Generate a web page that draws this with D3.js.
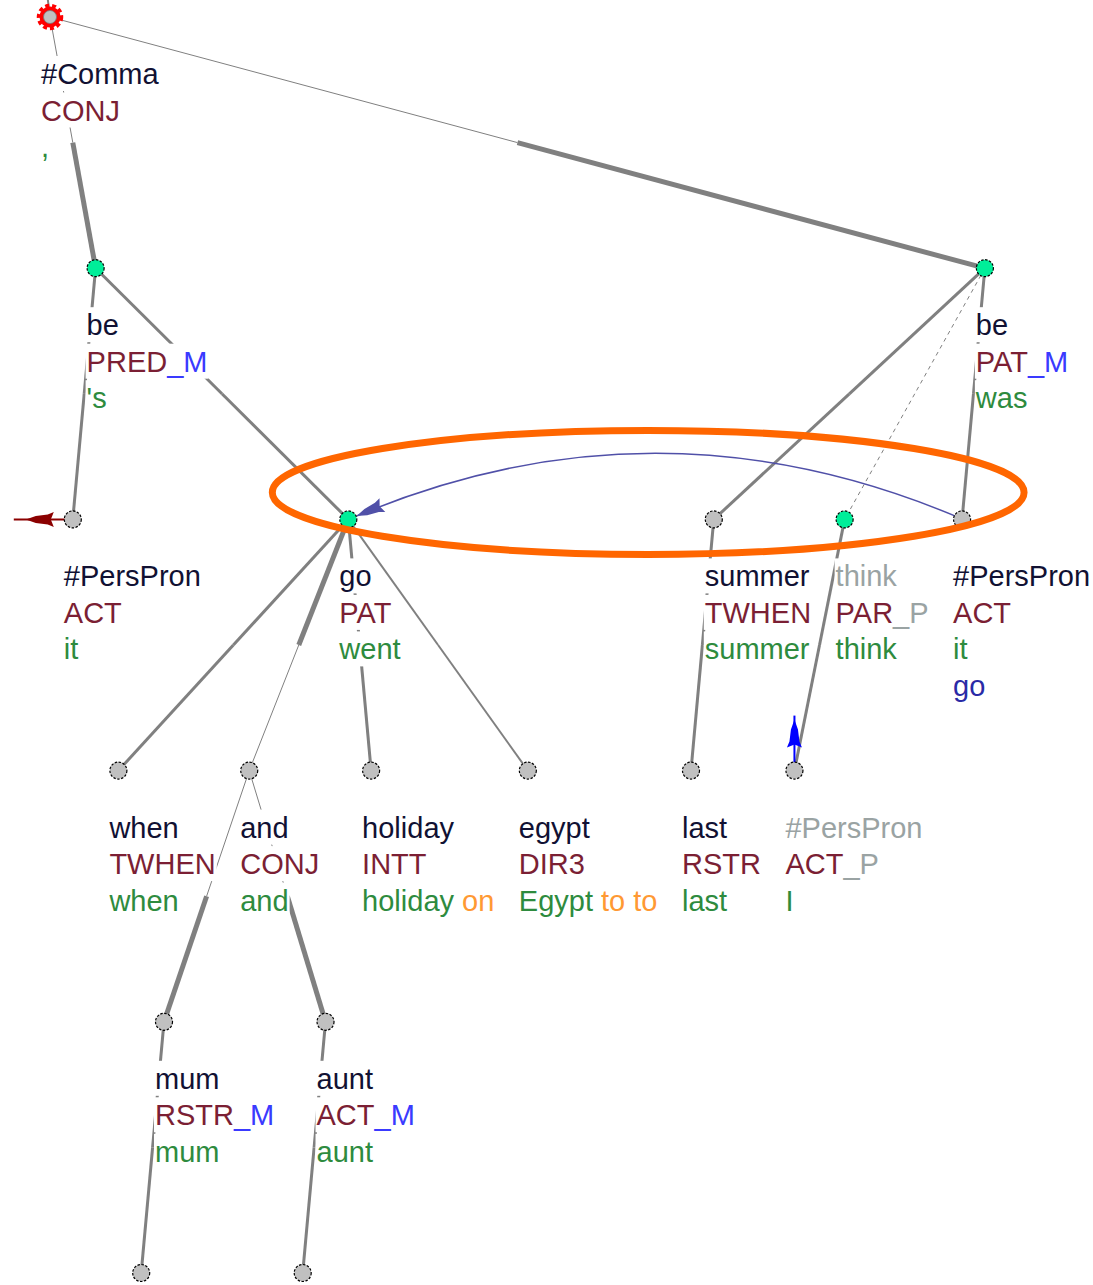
<!DOCTYPE html>
<html>
<head>
<meta charset="utf-8">
<script src="https://cdn.jsdelivr.net/npm/d3@7"></script>
<style>
body { margin: 0; background: #fff; }
svg { display: block; }
.lbl { font-family: "Liberation Sans", Arial, sans-serif; font-size: 29px; white-space: pre; }
</style>
</head>
<body>
<div id="chart"></div>
<script>
// tectogrammatical tree, nodes listed in deep word order (left to right)
var ids      = ["comma", "pers1", "be1", "when", "my1", "mum", "and", "my2", "aunt", "go", "holiday", "egypt", "last", "summer", "pers3", "think", "pers2", "be2"];
var parents  = [null, "be1", "comma", "go", "mum", "and", "go", "aunt", "and", "be1", "go", "go", "summer", "be2", "think", "be2", "be2", "comma"];
var lemmas   = ["#Comma", "#PersPron", "be", "when", "#PersPron", "mum", "and", "#PersPron", "aunt", "go", "holiday", "egypt", "last", "summer", "#PersPron", "think", "#PersPron", "be"];
var functors = ["CONJ", "ACT", "PRED_M", "TWHEN", "APP", "RSTR_M", "CONJ", "APP", "ACT_M", "PAT", "INTT", "DIR3", "RSTR", "TWHEN", "ACT_P", "PAR_P", "ACT", "PAT_M"];
var forms    = [",", "it", "'s", "when", "my", "mum", "and", "my", "aunt", "went", "holiday", "Egypt", "last", "summer", "I", "think", "it", "was"];
var auxWords = ["", "", "", "", "", "", "", "", "", "", "on", "to to", "", "", "", "", "", ""];
var extras   = ["", "", "", "", "", "", "", "", "", "", "", "", "", "", "", "", "go", ""];
// how the edge to the parent is drawn
var edgeKinds = ["", "normal", "member", "normal", "normal", "member", "coord", "normal", "member", "normal", "normal", "thin", "normal", "normal", "normal", "dashed", "normal", "member"];
var verbNodes  = ["be1", "be2", "go", "think"];   // drawn green
var mutedNodes = ["pers3", "think"];              // lemma in grey

// coreference arrows
var corefs = [
  {from: "pers1", to: null, dir: "left", color: "#8b0000"},
  {from: "pers3", to: null, dir: "up", color: "#0000ff"},
  {from: "pers2", to: "go", dir: null, color: "#5050a8"}
];
// highlighted arc (orange ellipse)
var highlight = {from: "go", to: "pers2"};

var W = 1093, H = 1285;
var colors = {
  lemma: "#111133", muted: "#9aa3a3", functor: "#7b1f34", member: "#3a3aff",
  para: "#9aa3a3", form: "#2e8b3e", aux: "#ff9933", extra: "#2a2aa6",
  edge: "#808080"
};
var edgeWidths = {normal: [3, 3], thin: [2, 2], member: [1, 5], coord: [5, 1], dashed: [1, 1]};

var svg = d3.select("#chart").append("svg")
    .attr("width", W)
    .attr("height", H);
svg.append("rect").attr("width", W).attr("height", H).attr("fill", "#fff");

var table = ids.map(function(id, i) {
  return {id: id, parent: parents[i], lemma: lemmas[i], functor: functors[i],
          form: forms[i], aux: auxWords[i], extra: extras[i], kind: edgeKinds[i]};
});

var root = d3.stratify().id(function(d) { return d.id; }).parentId(function(d) { return d.parent; })(table);
root.each(function(n) { n.data.depth = n.depth; });

var y = d3.scaleLinear().domain([0, root.height]).range([17, 1273]);

function labelLines(d) {
  var lines = [];
  lines.push([[d.lemma, mutedNodes.indexOf(d.id) >= 0 ? colors.muted : colors.lemma]]);
  var m = d.functor.match(/^(.*?)(_[MP])?$/);
  var f = [[m[1], colors.functor]];
  if (m[2]) f.push([m[2], m[2] == "_M" ? colors.member : colors.para]);
  lines.push(f);
  var fm = [[d.form, colors.form]];
  if (d.aux) fm.push([" " + d.aux, colors.aux]);
  lines.push(fm);
  if (d.extra) lines.push([[d.extra, colors.extra]]);
  return lines;
}

var meas = svg.append("text").attr("class", "lbl").attr("x", -2000).attr("y", -2000);
function lineWidth(segs) {
  meas.text(segs.map(function(s) { return s[0]; }).join(""));
  return meas.node().getComputedTextLength();
}

// TrEd-like layout: one step per node, labels on the same level must not collide
var step = 22.8, gap = 24.5, prevX = 50 - step, levelEnd = {};
table.forEach(function(d) {
  d.lines = labelLines(d);
  d.lw = d.lines.map(lineWidth);
  d.w = d3.max(d.lw);
  d.x = Math.max(prevX + step, levelEnd[d.depth] || -Infinity);
  prevX = d.x;
  levelEnd[d.depth] = d.x + d.w + gap;
  d.y = y(d.depth);
});
meas.remove();
var byId = new Map(table.map(function(d) { return [d.id, d]; }));

// edges
var edgeG = svg.append("g");
edgeG.append("line")
    .attr("x1", table[0].x).attr("y1", table[0].y)
    .attr("x2", table[0].x - 4).attr("y2", -15)
    .attr("stroke", colors.edge).attr("stroke-width", 2);
table.filter(function(d) { return d.parent; }).forEach(function(d) {
  var p = byId.get(d.parent), wd = edgeWidths[d.kind];
  var mx = (p.x + d.x) / 2, my = (p.y + d.y) / 2;
  [[p.x, p.y, mx, my, wd[0]], [mx, my, d.x, d.y, wd[1]]].forEach(function(s) {
    edgeG.append("line")
        .attr("x1", s[0]).attr("y1", s[1]).attr("x2", s[2]).attr("y2", s[3])
        .attr("stroke", colors.edge)
        .attr("stroke-width", s[4])
        .attr("stroke-dasharray", d.kind == "dashed" ? "4,4" : null);
  });
});

// arrowhead polygon (u = back along the arrow, v = across)
var headShape = [[0, 0], [10, 3.5], [22, 5], [28, 7.5], [25, 0], [28, -7.5], [22, -5], [10, -3.5]];
function arrowHead(g, tx, ty, ang, color, scale) {
  var ca = Math.cos(ang), sa = Math.sin(ang);
  var pts = headShape.map(function(p) {
    var u = p[0] * scale, v = p[1] * scale;
    return [tx - u * ca - v * sa, ty - u * sa + v * ca];
  });
  g.append("polygon").attr("points", pts.join(" ")).attr("fill", color);
}

var corefG = svg.append("g");
corefs.forEach(function(c) {
  var s = byId.get(c.from);
  if (c.to) {
    var t = byId.get(c.to);
    var chord = s.x - t.x;
    var cx = (s.x + t.x) / 2, cy = s.y - 0.21 * chord;
    var ex = t.x + 9 * 0.92, ey = t.y - 9 * 0.38;
    corefG.append("path")
        .attr("d", "M" + (s.x - 6) + "," + (s.y - 3) + " Q" + cx + "," + cy + " " + ex + "," + ey)
        .attr("fill", "none").attr("stroke", c.color).attr("stroke-width", 1.5);
    arrowHead(corefG, ex, ey, Math.atan2(ey - cy, ex - cx), c.color, 1);
  } else {
    var dx = c.dir == "left" ? -1 : 0, dy = c.dir == "up" ? -1 : 0;
    corefG.append("line")
        .attr("x1", s.x).attr("y1", s.y)
        .attr("x2", s.x + dx * 59).attr("y2", s.y + dy * 55)
        .attr("stroke", c.color).attr("stroke-width", 2);
    arrowHead(corefG, s.x + dx * 47, s.y + dy * 51, Math.atan2(dy, dx), c.color, 1);
  }
});

// labels with white boxes
var labelG = svg.append("g");
table.forEach(function(d) {
  d.lines.forEach(function(segs, i) {
    var base = d.y + 67 + i * 36.5;
    if (base - 27 > H) return;
    var tx = d.x - 9;
    labelG.append("rect")
        .attr("x", tx - 1).attr("y", base - 28)
        .attr("width", d.lw[i] + 2).attr("height", 35)
        .attr("fill", "#fff");
    var t = labelG.append("text").attr("class", "lbl").attr("x", tx).attr("y", base);
    segs.forEach(function(s) {
      t.append("tspan").attr("fill", s[1]).text(s[0]);
    });
  });
});

// nodes
var nodeG = svg.append("g");
table.forEach(function(d, i) {
  if (i == 0) {
    nodeG.append("circle").attr("cx", d.x).attr("cy", d.y).attr("r", 10.5).attr("fill", "#ff0000");
    nodeG.append("circle").attr("cx", d.x).attr("cy", d.y).attr("r", 11.5)
        .attr("fill", "none").attr("stroke", "#ff0000").attr("stroke-width", 3.5)
        .attr("stroke-dasharray", "4,3");
    nodeG.append("circle").attr("cx", d.x).attr("cy", d.y).attr("r", 6.5)
        .attr("fill", "#c0c0c0").attr("stroke", "#777").attr("stroke-width", 0.8);
    return;
  }
  nodeG.append("circle")
      .attr("cx", d.x).attr("cy", d.y).attr("r", 8.5)
      .attr("fill", verbNodes.indexOf(d.id) >= 0 ? "#00ee99" : "#c0c0c0")
      .attr("stroke", "#000").attr("stroke-width", 1.2)
      .attr("stroke-dasharray", "2.5,1.5");
});

// orange highlight around the coreference arc
var ha = byId.get(highlight.from), hb = byId.get(highlight.to);
var left = ha.x - 76, right = hb.x + 62;
svg.append("ellipse")
    .attr("cx", (left + right) / 2).attr("cy", ha.y - 27)
    .attr("rx", (right - left) / 2).attr("ry", 62)
    .attr("fill", "none").attr("stroke", "#ff6600").attr("stroke-width", 7);
</script>
</body>
</html>
